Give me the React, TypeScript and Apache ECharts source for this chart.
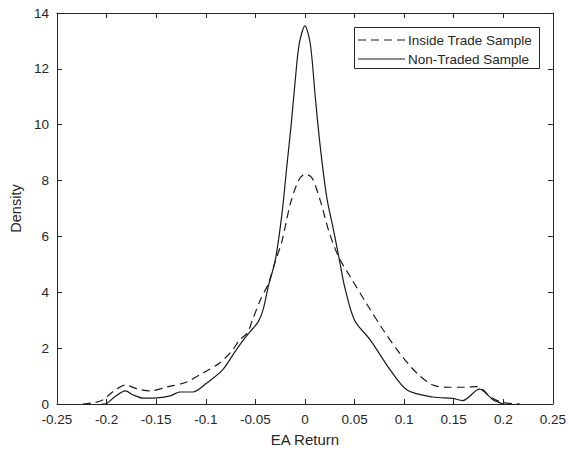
import React, { useEffect, useRef } from "react";
import * as echarts from "echarts";

const seriesNames = ["Inside Trade Sample", "Non-Traded Sample"];

const insideX = [-0.224, -0.214, -0.204, -0.194, -0.181, -0.169, -0.156, -0.139, -0.119, -0.103, -0.086, -0.073, -0.066, -0.058, -0.053, -0.045, -0.037, -0.03, -0.023, -0.0148, -0.0064, 0, 0.007, 0.0155, 0.024, 0.034, 0.045, 0.062, 0.079, 0.096, 0.113, 0.129, 0.145, 0.16, 0.173, 0.18, 0.186, 0.197, 0.21, 0.217];
const insideY = [0, 0.04, 0.14, 0.43, 0.68, 0.54, 0.47, 0.61, 0.79, 1.11, 1.47, 1.93, 2.29, 2.55, 3.0, 3.72, 4.3, 5.1, 5.85, 7.16, 8.0, 8.23, 8.1, 7.28, 6.2, 5.26, 4.6, 3.6, 2.65, 1.8, 1.1, 0.68, 0.6, 0.6, 0.62, 0.5, 0.28, 0.08, 0.01, 0];

const nonTradedX = [-0.205, -0.2, -0.192, -0.181, -0.173, -0.163, -0.149, -0.136, -0.126, -0.113, -0.099, -0.083, -0.071, -0.062, -0.055, -0.047, -0.042, -0.037, -0.03, -0.0232, -0.018, -0.0138, -0.0098, -0.0057, 0, 0.0054, 0.0104, 0.0155, 0.022, 0.029, 0.0356, 0.04, 0.05, 0.066, 0.086, 0.103, 0.129, 0.149, 0.159, 0.176, 0.19, 0.2];
const nonTradedY = [0, 0.02, 0.25, 0.47, 0.32, 0.21, 0.22, 0.29, 0.43, 0.43, 0.75, 1.22, 1.85, 2.3, 2.6, 2.95, 3.4, 4.2, 5.13, 6.8, 8.6, 10.03, 11.58, 12.9, 13.54, 12.9, 11.0, 9.2, 7.4, 6.2, 5.0, 4.2, 3.0, 2.29, 1.22, 0.5, 0.25, 0.2, 0.12, 0.53, 0.14, 0];

const xMin = -0.25, xMax = 0.25, xStep = 0.05;
const yMin = 0, yMax = 14, yStep = 2;

const AX = "#262626";
const LINE = "#1a1a1a";
const FONT = "'Liberation Sans', Arial, sans-serif";

const zip = (xs: number[], ys: number[]) => xs.map((x, i) => [x, ys[i]]);

export default function App() {
  const ref = useRef<HTMLDivElement>(null);
  useEffect(() => {
    if (!ref.current) return;
    const chart = echarts.init(ref.current, null, { renderer: "svg" });
    const axisCommon = {
      axisLine: { show: true, onZero: false, lineStyle: { color: AX, width: 1 } },
      axisTick: { show: true, inside: true, length: 5, lineStyle: { color: AX } },
      splitLine: { show: false },
    };
    const lgX = 354, lgY = 27, lgW = 185, lgH = 41;
    chart.setOption({
      animation: false,
      backgroundColor: "#fff",
      textStyle: { fontFamily: FONT },
      grid: { left: 57, right: 16, top: 13, bottom: 52, containLabel: false },
      xAxis: [
        {
          type: "value", min: xMin, max: xMax, interval: xStep, position: "bottom",
          name: "EA Return", nameLocation: "middle", nameGap: 28,
          nameTextStyle: { color: AX, fontSize: 15, fontFamily: FONT },
          axisLabel: {
            color: AX, fontSize: 13.5, margin: 8, fontFamily: FONT,
            formatter: (v: number) => String(parseFloat(v.toFixed(2))),
          },
          ...axisCommon,
        },
        {
          type: "value", min: xMin, max: xMax, interval: xStep, position: "top",
          axisLabel: { show: false }, ...axisCommon,
        },
      ],
      yAxis: [
        {
          type: "value", min: yMin, max: yMax, interval: yStep, position: "left",
          name: "Density", nameLocation: "middle", nameGap: 32,
          nameTextStyle: { color: AX, fontSize: 14.5, fontFamily: FONT },
          axisLabel: { color: AX, fontSize: 13.5, margin: 8, fontFamily: FONT },
          ...axisCommon,
        },
        {
          type: "value", min: yMin, max: yMax, interval: yStep, position: "right",
          axisLabel: { show: false }, ...axisCommon,
        },
      ],
      graphic: [
        {
          type: "group",
          z: 100,
          children: [
            {
              type: "rect",
              shape: { x: lgX + 0.5, y: lgY + 0.5, width: lgW, height: lgH },
              style: { fill: "#fff", stroke: AX, lineWidth: 1 },
            },
            {
              type: "line",
              shape: { x1: lgX + 4, y1: lgY + 13, x2: lgX + 51, y2: lgY + 13 },
              style: { stroke: LINE, lineWidth: 1.2, lineDash: [8, 5] },
            },
            {
              type: "text",
              x: lgX + 54, y: lgY + 13,
              style: { text: seriesNames[0], fill: AX, font: `13.5px ${FONT}`, verticalAlign: "middle", align: "left" },
            },
            {
              type: "line",
              shape: { x1: lgX + 4, y1: lgY + 32, x2: lgX + 51, y2: lgY + 32 },
              style: { stroke: LINE, lineWidth: 1.2 },
            },
            {
              type: "text",
              x: lgX + 54, y: lgY + 32,
              style: { text: seriesNames[1], fill: AX, font: `13.5px ${FONT}`, verticalAlign: "middle", align: "left" },
            },
          ],
        },
      ],
      series: [
        {
          name: seriesNames[0], type: "line", symbol: "none", smooth: 0.3,
          data: zip(insideX, insideY),
          lineStyle: { color: LINE, width: 1.2, type: [8, 5] },
        },
        {
          name: seriesNames[1], type: "line", symbol: "none", smooth: 0.3,
          data: zip(nonTradedX, nonTradedY),
          lineStyle: { color: LINE, width: 1.2, type: "solid" },
        },
      ],
    });
    return () => chart.dispose();
  }, []);
  return (
    <div
      ref={ref}
      style={{ position: "fixed", left: 0, top: 0, width: 569, height: 456, background: "#fff" }}
    />
  );
}
